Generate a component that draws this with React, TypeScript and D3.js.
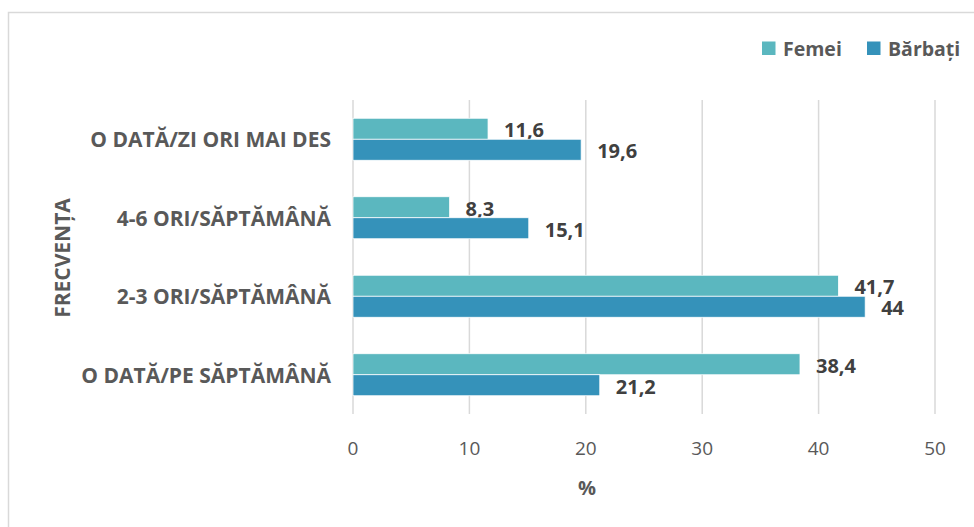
import React from "react";
import * as d3 from "d3";

const categories = [
  "O DATĂ/ZI ORI MAI DES",
  "4-6 ORI/SĂPTĂMÂNĂ",
  "2-3 ORI/SĂPTĂMÂNĂ",
  "O DATĂ/PE SĂPTĂMÂNĂ",
];
const seriesNames = ["Femei", "Bărbați"];
const femei = [11.6, 8.3, 41.7, 38.4];
const barbati = [19.6, 15.1, 44, 21.2];
const xTicks = [0, 10, 20, 30, 40, 50];
const colors = ["#5BB7BF", "#3592BA"];

const W = 974;
const H = 527;
const FONT = "'Open Sans', 'DejaVu Sans', sans-serif";

export default function App() {
  const x = d3.scaleLinear().domain([0, 50]).range([353, 935]);
  const y = d3.scaleBand<string>().domain(categories).range([100, 414]).padding(0);
  const inner = d3
    .scaleBand<string>()
    .domain(seriesNames)
    .range([0, y.bandwidth()])
    .paddingInner(0)
    .paddingOuter(0.87);
  const values = [femei, barbati];

  return (
    <svg
      width={W}
      height={H}
      style={{ position: "absolute", left: 0, top: 0, background: "#fff" }}
      fontFamily={FONT}
    >
      <rect x={0} y={0} width={W} height={H} fill="#fff" />
      <rect x={8.5} y={12.5} width={980} height={600} fill="none" stroke="#d9d9d9" strokeWidth={1.5} />
      {xTicks.map((t) => (
        <line key={t} x1={x(t)} x2={x(t)} y1={100} y2={414} stroke="#d9d9d9" strokeWidth={1.5} />
      ))}
      {xTicks.map((t) => (
        <text key={"t" + t} x={x(t)} y={448} textAnchor="middle" dominantBaseline="central" fontSize={19} fill="#595959">
          {t}
        </text>
      ))}
      <text x={587} y={487} textAnchor="middle" dominantBaseline="central" fontSize={20} fontWeight="bold" fill="#595959">
        %
      </text>
      {categories.map((c) => (
        <text
          key={c}
          x={331}
          y={(y(c) as number) + y.bandwidth() / 2}
          textAnchor="end"
          dominantBaseline="central"
          fontSize={21}
          fontWeight="bold"
          fill="#595959"
        >
          {c}
        </text>
      ))}
      <text
        transform={`translate(62,258) rotate(-90)`}
        textAnchor="middle"
        dominantBaseline="central"
        fontSize={21}
        fontWeight="bold"
        fill="#595959"
      >
        FRECVENȚA
      </text>
      {seriesNames.map((s, si) =>
        categories.map((c, ci) => {
          const v = values[si][ci];
          const by = (y(c) as number) + (inner(s) as number);
          return (
            <g key={s + c}>
              <rect
                x={x(0)}
                y={by}
                width={x(v) - x(0)}
                height={inner.bandwidth()}
                fill={colors[si]}
                stroke="#ffffff"
                strokeWidth={0.75}
              />
              <text
                x={x(v) + 16}
                y={by + inner.bandwidth() / 2 + 1}
                dominantBaseline="central"
                fontSize={20}
                fontWeight="bold"
                fill="#404040"
              >
                {String(v).replace(".", ",")}
              </text>
            </g>
          );
        })
      )}
      {seriesNames.map((s, si) => {
        const lx = si === 0 ? 762 : 867;
        return (
          <g key={"lg" + s}>
            <rect x={lx} y={41.5} width={13.5} height={13.5} fill={colors[si]} />
            <text x={lx + 21} y={48.5} dominantBaseline="central" fontSize={19.5} fontWeight="bold" fill="#595959">
              {s}
            </text>
          </g>
        );
      })}
    </svg>
  );
}
